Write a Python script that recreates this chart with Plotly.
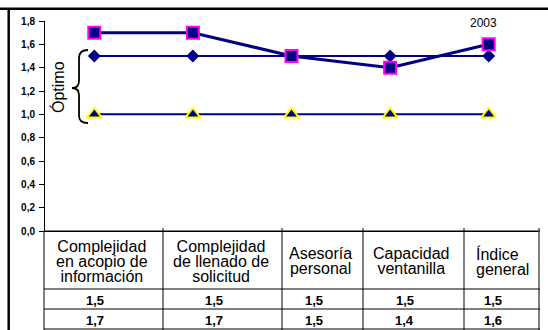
import plotly.graph_objects as go

# Categories (header lines of the data table)
categories = [
    ["Complejidad", "en acopio de", "información"],
    ["Complejidad", "de llenado de", "solicitud"],
    ["Asesoría", "personal"],
    ["Capacidad", "ventanilla"],
    ["Índice", "general"],
]
optimo_sup = [1.5, 1.5, 1.5, 1.5, 1.5]
valores_2003 = [1.7, 1.7, 1.5, 1.4, 1.6]
optimo_inf = [1.0, 1.0, 1.0, 1.0, 1.0]
y_ticks = [0.0, 0.2, 0.4, 0.6, 0.8, 1.0, 1.2, 1.4, 1.6, 1.8]
serie_label = "2003"

W, H = 548, 330
ML, MR, MT, MB = 45, 10, 21, 99
NAVY = "#000080"
FONT = "Liberation Sans, Arial, sans-serif"

pw, ph = W - ML - MR, H - MT - MB


def px(x):
    return (x - ML) / pw


def py(y):
    return (H - MB - y) / ph


def fmt(v):
    return f"{v:.1f}".replace(".", ",")


xs = list(range(len(categories)))

fig = go.Figure()
fig.add_trace(go.Scatter(
    x=xs, y=optimo_inf, mode="lines+markers",
    line=dict(color=NAVY, width=2),
    marker=dict(symbol="triangle-up", size=13, color=NAVY,
                line=dict(color="#FFFF00", width=2)),
    cliponaxis=False, showlegend=False))
fig.add_trace(go.Scatter(
    x=xs, y=optimo_sup, mode="lines+markers",
    line=dict(color=NAVY, width=2),
    marker=dict(symbol="diamond", size=10, color=NAVY),
    cliponaxis=False, showlegend=False))
fig.add_trace(go.Scatter(
    x=xs, y=valores_2003, mode="lines+markers",
    line=dict(color=NAVY, width=3),
    marker=dict(symbol="square", size=12, color=NAVY,
                line=dict(color="#FF00FF", width=2)),
    cliponaxis=False, showlegend=False))

shapes = []
ann = []

# outer frame (top and left borders)
shapes.append(dict(type="line", xref="paper", yref="paper",
                   x0=px(0), x1=px(W), y0=py(8.7), y1=py(8.7),
                   line=dict(color="black", width=2.5)))
shapes.append(dict(type="line", xref="paper", yref="paper",
                   x0=px(8.7), x1=px(8.7), y0=py(8.7), y1=py(H),
                   line=dict(color="black", width=2.5)))

# data table grid
col_edges = [44, 163, 282, 363, 464, 539]
row_edges = [231, 289, 309, 329]
for i, cx in enumerate(col_edges):
    y_top = 231 if i == 0 else 228
    shapes.append(dict(type="line", xref="paper", yref="paper",
                       x0=px(cx), x1=px(cx), y0=py(y_top), y1=py(H),
                       line=dict(color="black", width=1)))
for ry in row_edges:
    shapes.append(dict(type="line", xref="paper", yref="paper",
                       x0=px(col_edges[0]), x1=px(col_edges[-1] + 1),
                       y0=py(ry), y1=py(ry),
                       line=dict(color="black", width=1)))

# header cells: glyphs at 16px, line pitch driven by the 11.5px base size
head_mid = (row_edges[0] + row_edges[1]) / 2
for i, lines in enumerate(categories):
    cx = (col_edges[i] + col_edges[i + 1]) / 2 - 2
    txt = "<br>".join(f'<span style="font-size:16px">{t}</span>'
                      for t in lines)
    left = lines[0] == "Índice"
    ann.append(dict(text=txt, x=px(474) if left else px(cx),
                    y=py(head_mid + 1),
                    xref="paper", yref="paper",
                    xanchor="left" if left else "center",
                    yanchor="middle", align="left" if left else "center",
                    showarrow=False,
                    font=dict(size=11.5, family=FONT, color="black")))

# value rows
for r, serie in enumerate([optimo_sup, valores_2003]):
    ymid = (row_edges[r + 1] + row_edges[r + 2]) / 2
    for i, v in enumerate(serie):
        cx = (col_edges[i] + col_edges[i + 1]) / 2 - 9
        ann.append(dict(text=fmt(v), x=px(cx), y=py(ymid + 1), xref="paper",
                        yref="paper", xanchor="center", yanchor="middle",
                        showarrow=False,
                        font=dict(size=13, family=FONT, color="black",
                                  weight="bold")))

# brace marking the optimum band
pts = [(88, 50), (79, 50), (79, 58), (79, 81), (79, 88), (72, 88),
       (79, 88), (79, 95), (79, 116), (79, 123), (88, 123)]
P = [f"{px(a):.5f},{py(b):.5f}" for a, b in pts]
path = (f"M {P[0]} Q {P[1]} {P[2]} L {P[3]} Q {P[4]} {P[5]} "
        f"Q {P[6]} {P[7]} L {P[8]} Q {P[9]} {P[10]}")
shapes.append(dict(type="path", xref="paper", yref="paper", path=path,
                   line=dict(color="black", width=1.8)))

ann.append(dict(text="Óptimo", x=px(58), y=py(87), xref="paper",
                yref="paper", textangle=-90, showarrow=False,
                xanchor="center", yanchor="middle",
                font=dict(size=16, family=FONT, color="black")))

ann.append(dict(text=serie_label, x=xs[-1], y=valores_2003[-1], xref="x",
                yref="y", xshift=-5, yshift=21, showarrow=False,
                xanchor="center", yanchor="middle",
                font=dict(size=12, family=FONT, color="black")))

fig.update_layout(
    width=W, height=H,
    margin=dict(l=ML, r=MR, t=MT, b=MB, pad=0),
    paper_bgcolor="white", plot_bgcolor="white",
    separators=",.",
    showlegend=False,
    shapes=shapes, annotations=ann,
    xaxis=dict(range=[-0.5, len(categories) - 0.5], showgrid=False,
               zeroline=False, showticklabels=False, ticks="",
               showline=True, linecolor="black", linewidth=1,
               fixedrange=True),
    yaxis=dict(range=[0, 1.8], tickvals=y_ticks, tickformat=".1f",
               showgrid=False, zeroline=False, showline=True,
               linecolor="black", linewidth=1, ticks="outside",
               ticklen=5, tickwidth=1, tickcolor="black",
               ticklabelstandoff=2,
               tickfont=dict(size=10, family=FONT, color="black",
                             weight="bold"),
               fixedrange=True),
)

fig.write_html("out.html")
